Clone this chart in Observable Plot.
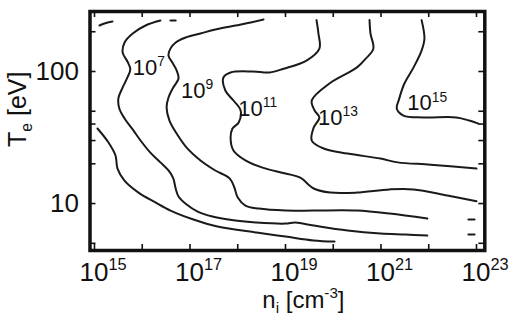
<!DOCTYPE html>
<html><head><meta charset="utf-8">
<script src="https://cdn.jsdelivr.net/npm/d3@7"></script>
<script src="https://cdn.jsdelivr.net/npm/@observablehq/plot@0.6"></script>
<style>body{margin:0;background:#fff;}</style>
</head><body><div id="chart"></div>
<script>
// Contour lines: [log10 n_i (cm^-3), T_e (eV)]
const c5Top = [[15.105,223],[15.209,231],[15.377,239]];
const c5 = [[15.063,37.0],[15.293,29.0],[15.440,23.1],[15.482,18.4],[15.628,14.9],[15.921,12.1],[16.277,10.2],[16.592,8.85],[17.073,7.57],[17.576,6.70],[18.393,6.03],[19.0,5.62],[19.586,5.25],[20.026,5.15]];
const c7Dash = [[16.59,243],[16.70,243]];
const c7 = [[16.38,243],[16.07,223],[15.80,194],[15.63,166],[15.59,139],[15.69,119],[15.75,104],[15.69,90.1],[15.59,75.7],[15.50,62.4],[15.52,52.5],[15.63,44.1],[15.80,36.4],[15.98,29.5],[16.17,24.3],[16.38,20.5],[16.55,17.8],[16.65,15.5],[16.70,13.0],[16.76,11.3],[16.93,9.82],[17.16,8.69],[17.47,7.97],[17.95,7.43],[18.39,7.18],[19.0,7.05],[19.21,7.18],[19.59,6.81],[20.30,6.24],[20.99,5.92],[21.51,5.82],[21.97,5.72]];
const c7Tail = [[22.83,5.82],[22.96,5.82]];
const c9 = [[18.54,248],[18.27,235],[17.95,223],[17.53,208],[17.22,194],[16.91,181],[16.70,166],[16.59,149],[16.55,132],[16.63,117],[16.72,102],[16.76,88.5],[16.65,75.7],[16.55,63.5],[16.51,53.4],[16.57,42.5],[16.72,33.9],[16.93,26.5],[17.22,21.2],[17.53,17.8],[17.83,15.5],[17.93,13.2],[18.00,11.1],[18.16,9.66],[18.44,9.16],[19.0,8.85],[19.59,8.85],[20.49,8.85],[21.18,8.40],[21.97,7.69]];
const c9Tail = [[22.83,7.57],[22.96,7.57]];
const c11 = [[19.65,245],[19.69,194],[19.71,149],[19.44,121],[18.96,105],[18.67,98.3],[18.31,100],[17.85,98.3],[17.70,90.1],[17.74,71.8],[17.91,60.3],[18.06,50.7],[18.02,41.1],[17.89,37.0],[17.85,31.6],[17.91,25.2],[18.16,21.2],[18.52,18.7],[19.0,16.9],[19.31,15.7],[19.59,13.0],[19.94,12.1],[20.49,12.1],[21.18,12.8],[21.68,12.8],[22.39,11.5],[23.0,10.4]];
const c13 = [[20.76,245],[20.78,194],[20.84,149],[20.68,125],[20.49,107],[19.92,81.1],[19.55,60.3],[19.61,50.7],[19.71,44.9],[19.59,37.6],[19.55,30.0],[19.80,26.1],[20.30,23.9],[20.99,21.9],[21.35,20.5],[22.04,19.7],[23.0,18.4]];
const c15 = [[21.85,245],[21.91,178],[21.85,144],[21.68,107],[21.49,81.1],[21.37,60.3],[21.33,52.5],[21.47,46.4],[21.89,44.9],[22.58,44.9],[22.85,42.5],[23.04,40.3]];

// Contour labels
const labelText = ["10^{7}","10^{9}","10^{11}","10^{13}","10^{15}"];
const labelLogN = [15.80, 16.81, 18.01, 19.68, 21.55];
const labelT = [94.9, 63.5, 46.4, 39.6, 50.7];

// Axes
const xTickExps = [15,16,17,18,19,20,21,22,23];
const xLabelExps = [15,17,19,21,23];
const yTicks = [5,10,20,30,40,50,100,200];
const yLabels = [10,100];
const xDomain = [10**14.906, 10**23.174];
const yDomain = [4.41, 284.7];

const segments = {c5Top, c5, c7Dash, c7, c7Tail, c9, c9Tail, c11, c13, c15};
const rows = [];
for (const [name, pts] of Object.entries(segments)) for (const [ln, T] of pts) rows.push({seg: name, ln, T});
const labels = labelText.map((t, i) => ({t, ln: labelLogN[i], T: labelT[i]}));

const W = 512, H = 320, mL = 89.5, mR = 27.7, mT = 11, mB = 70;
const fw = W - mL - mR, fh = H - mT - mB, tk = 6;
const font = "'Liberation Sans', Arial, Helvetica, sans-serif";
const ink = "#111";

const chart = Plot.plot({
  width: W, height: H, marginLeft: mL, marginRight: mR, marginTop: mT, marginBottom: mB,
  style: {fontFamily: font, background: "#fff", color: ink},
  x: {type: "log", domain: xDomain, axis: null},
  y: {type: "log", domain: yDomain, axis: null},
  marks: [
    Plot.line(rows, {x: d => 10 ** d.ln, y: "T", z: "seg", stroke: "#1a1a1a", strokeWidth: 2, curve: "catmull-rom"}),
    Plot.ruleX(xTickExps, {x: d => 10 ** d, insetTop: fh - tk, stroke: ink, strokeWidth: 1.6}),
    Plot.ruleX(xTickExps, {x: d => 10 ** d, insetBottom: fh - tk, stroke: ink, strokeWidth: 1.6}),
    Plot.ruleY(yTicks, {y: d => d, insetRight: fw - tk, stroke: ink, strokeWidth: 1.6}),
    Plot.ruleY(yTicks, {y: d => d, insetLeft: fw - tk, stroke: ink, strokeWidth: 1.6}),
    Plot.frame({stroke: ink, strokeWidth: 3.5}),
    Plot.text(xLabelExps, {x: d => 10 ** d, text: d => `10^{${d}}`, frameAnchor: "bottom", textAnchor: "start", lineAnchor: "bottom", dx: -15, dy: 30, fontSize: 26, fill: ink}),
    Plot.text(yLabels, {y: d => d, text: d => String(d), frameAnchor: "left", textAnchor: "end", dx: -11, fontSize: 26, fill: ink}),
    Plot.text(labels, {x: d => 10 ** d.ln, y: "T", text: "t", textAnchor: "start", lineAnchor: "bottom", fontSize: 22, fill: ink}),
    Plot.text(["n_{i} [cm^{-3}]"], {frameAnchor: "bottom", lineAnchor: "bottom", dx: 16, dy: 57, fontSize: 24, fill: ink}),
    Plot.text(["T_{e} [eV]"], {frameAnchor: "left", rotate: -90, dx: -72, dy: 16, fontSize: 25, fill: ink})
  ]
});
document.getElementById("chart").appendChild(chart);

// Render ^{..} and _{..} as real superscript / subscript tspans
function richText(svg) {
  svg.querySelectorAll("text").forEach(t => {
    const s = t.textContent;
    if (!/[\^_]\{/.test(s)) return;
    const fs = parseFloat(getComputedStyle(t).fontSize);
    const re = /([\^_])\{([^}]*)\}|([^\^_]+)/g;
    const parts = [];
    let m;
    while ((m = re.exec(s))) parts.push(m[3] != null ? {k: "n", s: m[3]} : {k: m[1], s: m[2]});
    t.textContent = "";
    let cur = 0;
    for (const p of parts) {
      const ts = document.createElementNS("http://www.w3.org/2000/svg", "tspan");
      const target = p.k === "^" ? -0.4 * fs : p.k === "_" ? 0.22 * fs : 0;
      ts.setAttribute("dy", (target - cur).toFixed(2));
      cur = target;
      if (p.k !== "n") ts.setAttribute("font-size", (0.63 * fs).toFixed(2));
      ts.textContent = p.s;
      t.appendChild(ts);
    }
  });
}
richText(chart);
</script>
</body></html>
